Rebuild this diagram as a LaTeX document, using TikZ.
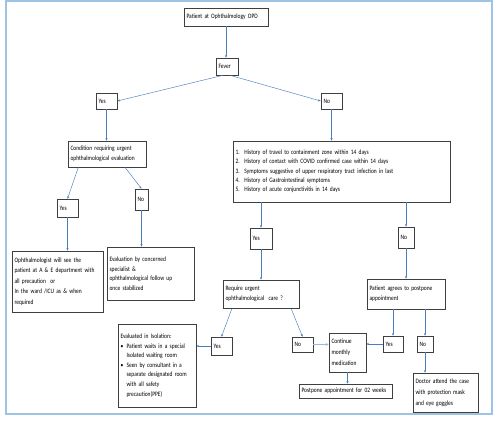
\documentclass[tikz,border=0pt]{standalone}
\usepackage{fontspec}
\setmainfont{Carlito}[FakeStretch=0.82]
\usetikzlibrary{arrows.meta}
\definecolor{frameblue}{HTML}{9DC3E6}
\definecolor{arrblue}{HTML}{4A7EBB}
\definecolor{boxgray}{HTML}{3F3F3F}
\begin{document}
\begin{tikzpicture}[x=1pt,y=-1pt,
  box/.style={draw=boxgray, line width=0.6pt, inner xsep=2.5pt, inner ysep=1.5pt,
    font=\fontsize{6.7}{9.6}\selectfont, align=left, anchor=center},
  arr/.style={draw=arrblue, line width=0.45pt, -{Stealth[length=2.6pt,width=2.2pt]}},
  arrthick/.style={draw=arrblue!55, line width=1.3pt, -{Stealth[length=3pt,width=3pt]}},
]
\useasboundingbox (0,0) rectangle (500,422);
\draw[frameblue, line width=1.2pt] (6,1) rectangle (492,414);

\node[box, text width=79pt, minimum height=18pt] (opd) at (226,17) {Patient at Ophthalmology OPD};
\node[box, text width=17pt, minimum height=17pt] (fever) at (227,66.5) {Fever};
\node[box, text width=16pt, minimum height=16pt] (yes1) at (106.5,101) {Yes};
\node[box, text width=16pt, minimum height=16pt] (no1) at (331.5,101) {No};
\node[box, text width=73pt, minimum height=26pt] (cond) at (107,154) {Condition requiring urgent\\ophthalmological evaluation};
\node[box, text width=212pt, minimum height=61pt, font=\fontsize{6.7}{9.3}\selectfont] (hist) at (341.5,171.5)
 {\makebox[9pt][l]{1.}History of travel to containment zone within 14 days\\
  \makebox[9pt][l]{2.}History of contact with COVID confirmed case within 14 days\\
  \makebox[9pt][l]{3.}Symptoms suggestive of upper respiratory tract infection in last\\
  \makebox[9pt][l]{4.}History of Gastrointestinal symptoms\\
  \makebox[9pt][l]{5.}History of acute conjunctivitis in 14 days};
\node[box, text width=16pt, minimum height=18pt] (yes2) at (67.5,208) {Yes};
\node[box, text width=8pt, minimum height=21pt] (no2) at (141.5,199.5) {No};
\node[box, text width=86pt, minimum height=61pt, font=\fontsize{6.7}{10.5}\selectfont] (ophth) at (57.5,281.5)
 {Ophthalmologist will see the\\\mbox{patient at A \& E department with}\\all precaution\ \ or\\In the ward /ICU as \& when\\required};
\node[box, text width=82pt, minimum height=53pt] (evalc) at (150.5,273.5)
 {Evaluation by concerned\\specialist \&\\ophthalmological follow up\\once stabilized};
\node[box, text width=17pt, minimum height=21pt] (yes3) at (261,238.5) {Yes};
\node[box, text width=11pt, minimum height=21pt] (no3) at (406,237.5) {No};
\node[box, text width=71pt, minimum height=28pt] (req) at (261,294) {Require urgent\\ophthalmological\ \ care ?};
\node[box, text width=73pt, minimum height=30pt] (agree) at (406,294) {Patient agrees to postpone\\appointment};
\node[box, text width=16pt, minimum height=18pt] (yes4) at (221.5,346) {Yes};
\node[box, text width=73pt, minimum height=83pt] (iso) at (157,365.5)
 {Evaluated in Isolation:\\
  \makebox[6pt][l]{•}Patient waits in a special\\
  \hspace*{6pt}Isolated waiting room\\
  \makebox[6pt][l]{•}Seen by consultant in a\\
  \hspace*{6pt}separate designated room\\
  \hspace*{6pt}with all safety\\
  \hspace*{6pt}precaution(PPE)};
\node[box, text width=16pt, minimum height=15pt] (no4) at (302.5,344.5) {No};
\node[box, text width=32pt, minimum height=39pt, font=\fontsize{6.7}{11}\selectfont] (cont) at (347.5,352.5) {Continue\\monthly\\medication};
\node[box, text width=15pt, minimum height=16pt] (yes5) at (393,344) {Yes};
\node[box, text width=11pt, minimum height=16pt] (no5) at (425,344) {No};
\node[box, text width=60pt, minimum height=39pt, font=\fontsize{6.7}{11}\selectfont] (doctor) at (445.5,392.5) {Doctor attend the case\\with protection mask\\and eye goggles};
\node[box, text width=88pt, minimum height=14pt] (postp) at (345.5,391) {Postpone appointment for 02 weeks};

\draw[arr] (opd.south) -- (opd.south |- fever.north);
\draw[arr] ([xshift=-4pt]fever.south) -- (yes1.east);
\draw[arr] ([xshift=3pt]fever.south) -- (no1.west);
\draw[arr] (yes1.south) -- (yes1.south |- cond.north);
\draw[arr] (no1.south) -- (no1.south |- hist.north);
\draw[arr] (cond.south -| yes2.east) -- (yes2.north);
\draw[arr] ([xshift=18pt]cond.south) -- (no2.north);
\draw[arr] (yes2.south) -- (yes2.south |- ophth.north);
\draw[arr] (no2.south) -- (no2.south |- evalc.north);
\draw[arr] (yes3.north |- hist.south) -- (yes3.north);
\draw[arr] (no3.north |- hist.south) -- (no3.north);
\draw[arr] (yes3.south) -- (yes3.south |- req.north);
\draw[arr] (no3.south) -- (no3.south |- agree.north);
\draw[arr] ([xshift=-29pt]req.south) -- (yes4.north);
\draw[arr] ([xshift=30pt]req.south) -- (no4.north);
\draw[arr] (yes4.west) -- (yes4.west -| iso.east);
\draw[arrthick] (no4.east) -- (no4.east -| cont.west);
\draw[arr] (yes5.north |- agree.south) -- (yes5.north);
\draw[arr] (no5.north |- agree.south) -- (no5.north);
\draw[arr] (yes5.west) -- (yes5.west -| cont.east);
\draw[arr] (no5.south) -- (no5.south |- doctor.north);
\draw[arr] (cont.south) -- (cont.south |- postp.north);
\end{tikzpicture}
\end{document}
